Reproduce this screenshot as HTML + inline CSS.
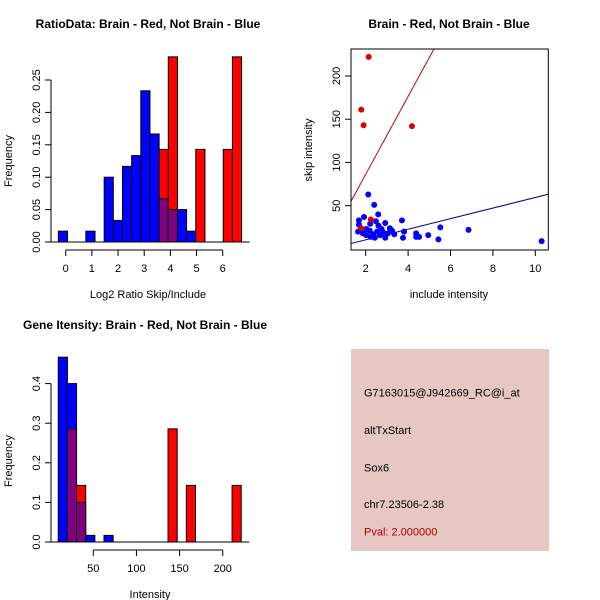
<!DOCTYPE html>
<html><head><meta charset="utf-8"><style>
body{margin:0;background:#fff}
svg{display:block;font-family:"Liberation Sans",sans-serif}
</style></head><body>
<svg id="c" width="600" height="600"></svg>
<script>
// Panel 1 data: log2 ratio histogram (bins of 0.35 starting at -0.28)
const ratioBlueBins=[0,3,5,6,7,8,9,10,11,12,13,14];
const ratioBlueFreq=[0.0167,0.0167,0.1,0.0333,0.1167,0.1333,0.2333,0.1667,0.0667,0.05,0.05,0.0167];
const ratioRedBins=[11,12,15,18,19];
const ratioRedFreq=[0.1429,0.2857,0.1429,0.1429,0.2857];
const ratioXTicks=[0,1,2,3,4,5,6];
const ratioYTicks=["0.00","0.05","0.10","0.15","0.20","0.25"];
// Panel 2 data: scatter
const blueX=[2.12,2.4,2.59,1.92,1.68,3.71,1.68,2.21,2.48,2.92,5.52,6.85,10.3,3.14,3.81,4.38,4.95,5.43,4.38,4.52,3.76,3.35,1.64,1.87,2.03,2.24,2.43,2.67,2.92,3.05,2.75,2.54,2.35,2.19,2.83,2.6,3.24,2.03];
const blueY=[63,51,40,37,33,33,28,29,32,30,25,22,9,24,20,18,16,11,14,14,13,17,20,18,16,14,13,16,13,18,23,20,17,21,19,27,21,23];
const redX=[2.14,1.79,1.9,4.18,2.24,1.78];
const redY=[222,161,143,142,34,24];
const redFit=[45,-3.7];   // slope, intercept
const blueFit=[6.12,-1.7];
const scatterXTicks=[2,4,6,8,10];
const scatterYTicks=[50,100,150,200];
// Panel 3 data: intensity histogram (bins of 10.6 starting at 9.4)
const intBlueBins=[0,1,2,3,5];
const intBlueFreq=[0.4667,0.4,0.1,0.0167,0.0167];
const intRedBins=[1,2,12,14,19];
const intRedFreq=[0.2857,0.1429,0.2857,0.1429,0.1429];
const intXTicks=[50,100,150,200];
const intYTicks=["0.0","0.1","0.2","0.3","0.4"];

const svg=document.getElementById('c');
const NS='http://www.w3.org/2000/svg';
function el(tag,attrs,parent){const e=document.createElementNS(NS,tag);for(const k in attrs)e.setAttribute(k,attrs[k]);(parent||svg).appendChild(e);return e;}
function txt(s,x,y,opts,parent){const t=el('text',Object.assign({x:x,y:y,'font-size':11,'text-anchor':'middle',fill:'#000'},opts||{}),parent);t.textContent=s;return t;}

function histPanel(name,sx,sy,y0px,yAxisX,xAxisY,blueBins,blueFreq,redBins,redFreq,binStart,binW,xticks,yticks,yStep,yTickTop){
  const g=el('g',{});
  
  
  const map=new Map();
  blueBins.forEach((b,i)=>{map.set(b,Object.assign(map.get(b)||{},{b:blueFreq[i]}));});
  redBins.forEach((b,i)=>{map.set(b,Object.assign(map.get(b)||{},{r:redFreq[i]}));});
  map.forEach((v,b)=>{
    const xL=sx(binStart+b*binW), xR=sx(binStart+(b+1)*binW);
    const bl=v.b||0, rd=v.r||0, mn=Math.min(bl,rd), mx=Math.max(bl,rd);
    const top=bl>rd?'#0000ff':'#ff0000';
    const r1=el('rect',{x:xL,y:sy(mx),width:xR-xL,height:sy(0)-sy(mx),fill:top,stroke:'#000','stroke-width':1},g);
    
    
    if(mn>0){
      const r2=el('rect',{x:xL,y:sy(mn),width:xR-xL,height:sy(0)-sy(mn),fill:'#800080',stroke:'#000','stroke-width':1},g);
      
      
    }
  });
  el('line',{x1:sx(binStart)-8,x2:sx(binStart+(Math.max(...blueBins,...redBins)+1)*binW)+8,y1:sy(0),y2:sy(0),stroke:'#000'},g);
  // x axis
  el('line',{x1:sx(xticks[0]),x2:sx(xticks[xticks.length-1]),y1:xAxisY,y2:xAxisY,stroke:'#000'},g);
  xticks.forEach(t=>{el('line',{x1:sx(t),x2:sx(t),y1:xAxisY,y2:xAxisY+6,stroke:'#000'},g);txt(String(t),sx(t),xAxisY+22,{},g);});
  // y axis
  el('line',{x1:yAxisX,x2:yAxisX,y1:sy(0),y2:sy(yTickTop),stroke:'#000'},g);
  yticks.forEach((t,i)=>{const y=sy(i*yStep);el('line',{x1:yAxisX,x2:yAxisX-6,y1:y,y2:y,stroke:'#000'},g);txt(t,0,0,{transform:`translate(${yAxisX-11},${y}) rotate(-90)`},g);});
  return g;
}

// Panel 1
{
  const sx=v=>65.7+v*26.17, sy=v=>242-v*648;
  histPanel('ratio-histogram',sx,sy,242,51,250,ratioBlueBins,ratioBlueFreq,ratioRedBins,ratioRedFreq,-0.28,0.35,ratioXTicks,ratioYTicks,0.05,0.25);
  txt('RatioData: Brain - Red, Not Brain - Blue',148,28,{'font-weight':'bold','font-size':12,});
  txt('Log2 Ratio Skip/Include',148,298,{});
  txt('Frequency',0,0,{transform:'translate(12,161) rotate(-90)',});
}
// Panel 3
{
  const sx=v=>93.3+(v-50)*0.863, sy=v=>542-v*396;
  histPanel('intensity-histogram',sx,sy,542,51,550,intBlueBins,intBlueFreq,intRedBins,intRedFreq,9.4,10.6,intXTicks,intYTicks,0.1,0.4);
  txt('Gene Itensity: Brain - Red, Not Brain - Blue',145,329,{'font-weight':'bold','font-size':12,});
  txt('Intensity',150,598,{});
  txt('Frequency',0,0,{transform:'translate(12,461) rotate(-90)',});
}
// Panel 2
{
  const L=351,R=548.3,T=49,B=250;
  const sx=v=>365.7+(v-2)*21.2, sy=v=>205.7-(v-50)*0.865;
  const g=el('g',{});
  
  
  el('clipPath',{id:'clp'},g).appendChild(Object.assign(document.createElementNS(NS,'rect'),{}));
  const cr=document.querySelector('#clp rect');cr.setAttribute('x',L);cr.setAttribute('y',T);cr.setAttribute('width',R-L);cr.setAttribute('height',B-T);
  const inner=el('g',{'clip-path':'url(#clp)'},g);
  const x1=1.2,x2=11;
  const rl=el('line',{x1:sx(x1),y1:sy(redFit[0]*x1+redFit[1]),x2:sx(x2),y2:sy(redFit[0]*x2+redFit[1]),stroke:'#cc0000','stroke-width':1},inner);
  
  
  const bl=el('line',{x1:sx(x1),y1:sy(blueFit[0]*x1+blueFit[1]),x2:sx(x2),y2:sy(blueFit[0]*x2+blueFit[1]),stroke:'#0000aa','stroke-width':1},inner);
  
  
  blueX.forEach((x,i)=>{const c=el('circle',{cx:sx(x),cy:sy(blueY[i]),r:3,fill:'#0000ff'},inner);
    
    });
  redX.forEach((x,i)=>{const c=el('circle',{cx:sx(x),cy:sy(redY[i]),r:3,fill:'#dd0000'},inner);
    
    });
  el('rect',{x:L,y:T,width:R-L,height:B-T,fill:'none',stroke:'#000'},g);
  scatterXTicks.forEach(t=>{el('line',{x1:sx(t),x2:sx(t),y1:B,y2:B+6,stroke:'#000'},g);txt(String(t),sx(t),B+22,{},g);});
  scatterYTicks.forEach(t=>{el('line',{x1:L,x2:L-6,y1:sy(t),y2:sy(t),stroke:'#000'},g);txt(String(t),0,0,{transform:`translate(${L-11},${sy(t)}) rotate(-90)`},g);});
  txt('Brain - Red, Not Brain - Blue',449,28,{'font-weight':'bold','font-size':12,});
  txt('include intensity',449,298,{});
  txt('skip intensity',0,0,{transform:'translate(312,150) rotate(-90)',});
}
// Panel 4 info box
{
  const g=el('g',{});
  
  
  el('rect',{x:351,y:349,width:198,height:202,fill:'#e6c7c1'},g);
  const lines=[['G7163015@J942669_RC@i_at',396.7,'#000'],['altTxStart',434,'#000'],['Sox6',471.7,'#000'],['chr7.23506-2.38',508,'#000'],['Pval: 2.000000',535.7,'#aa0000']];
  lines.forEach(l=>{const t=txt(l[0],364,l[1],{'text-anchor':'start',fill:l[2]},g);
    
    });
}
</script>
</body></html>
